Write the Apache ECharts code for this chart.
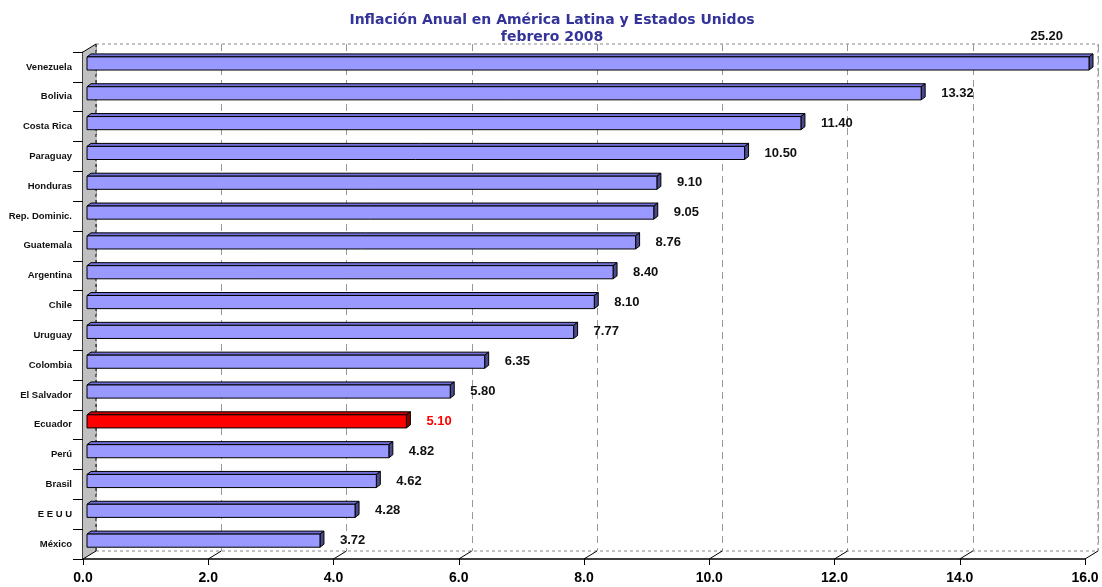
<!DOCTYPE html>
<html>
<head>
<meta charset="utf-8">
<script src="https://cdn.jsdelivr.net/npm/echarts@6/dist/echarts.min.js"></script>
<style>
html,body{margin:0;padding:0;background:#fff;}
#chart{width:1102px;height:587px;}
</style>
</head>
<body>
<div id="chart"></div>
<script>
// ---- data ----
const titleLine1 = 'Inflación Anual en América Latina y Estados Unidos';
const titleLine2 = 'febrero 2008';
const categories = ['Venezuela','Bolivia','Costa Rica','Paraguay','Honduras','Rep. Dominic.','Guatemala','Argentina','Chile','Uruguay','Colombia','El Salvador','Ecuador','Perú','Brasil','E E U U','México'];
const values = [25.20,13.32,11.40,10.50,9.10,9.05,8.76,8.40,8.10,7.77,6.35,5.80,5.10,4.82,4.62,4.28,3.72];
const highlighted = ['Ecuador'];
const X_MIN = 0, X_MAX = 16, X_STEP = 2;

// ---- style ----
const FONT = '"Liberation Sans", Arial, sans-serif';
const TITLE_FONT = '"DejaVu Sans", "Liberation Sans", sans-serif';
const DEPTH_X = 13, DEPTH_Y = 8;   // wall / floor depth
const BAR_DX = 4, BAR_DY = 3;      // bar depth

const chart = echarts.init(document.getElementById('chart'), null, {renderer: 'canvas'});

function renderWall(params, api) {
  const cs = params.coordSys;
  const children = [];
  children.push({
    type: 'polygon',
    shape: {points: [[cs.x, cs.y], [cs.x + DEPTH_X, cs.y - DEPTH_Y], [cs.x + DEPTH_X, cs.y + cs.height - DEPTH_Y], [cs.x, cs.y + cs.height]]},
    style: {fill: '#c0c0c0', stroke: null}
  });
  children.push({
    type: 'line',
    shape: {x1: cs.x, y1: cs.y, x2: cs.x + DEPTH_X, y2: cs.y - DEPTH_Y},
    style: {stroke: '#000', lineWidth: 1}
  });
  children.push({
    type: 'line',
    shape: {x1: cs.x + DEPTH_X, y1: cs.y - DEPTH_Y, x2: cs.x + DEPTH_X, y2: cs.y + cs.height - DEPTH_Y},
    style: {stroke: '#000', lineWidth: 1, lineDash: [3, 3]}
  });
  for (let v = X_MIN; v <= X_MAX; v += X_STEP) {
    const p = api.coord([v, categories.length - 1]);
    const yb = cs.y + cs.height;
    children.push({
      type: 'line',
      shape: {x1: p[0], y1: yb, x2: p[0] + DEPTH_X, y2: yb - DEPTH_Y},
      style: {stroke: '#000', lineWidth: 1}
    });
  }
  return {type: 'group', children: children};
}

function renderBar(params, api) {
  const i = api.value(0);
  const v = api.value(1);
  const shown = Math.min(v, X_MAX);
  const p0 = api.coord([0, i]);
  const p1 = api.coord([shown, i]);
  const band = api.size([0, 1])[1];
  const h = band * 0.44;
  const x0 = p0[0] + BAR_DX;
  const x1 = p1[0] + BAR_DX;
  const yt = p0[1] - band * 0.335;
  const hi = highlighted.indexOf(categories[i]) >= 0;
  const cFront = hi ? '#ff0000' : '#9999ff';
  const cTop = hi ? '#cc0000' : '#7070d8';
  const cSide = hi ? '#880000' : '#4a4a8c';
  const children = [
    {type: 'polygon', shape: {points: [[x0, yt], [x0 + BAR_DX, yt - BAR_DY], [x1 + BAR_DX, yt - BAR_DY], [x1, yt]]},
     style: {fill: cTop, stroke: '#000', lineWidth: 1}},
    {type: 'polygon', shape: {points: [[x1, yt], [x1 + BAR_DX, yt - BAR_DY], [x1 + BAR_DX, yt + h - BAR_DY], [x1, yt + h]]},
     style: {fill: cSide, stroke: '#000', lineWidth: 1}},
    {type: 'rect', shape: {x: x0, y: yt, width: x1 - x0, height: h},
     style: {fill: cFront, stroke: '#000', lineWidth: 1}}
  ];
  const clipped = v > X_MAX;
  children.push({
    type: 'text',
    x: clipped ? x1 - 26 : x1 + BAR_DX + 16,
    y: clipped ? yt - 20 : yt + h / 2,
    style: {
      text: v.toFixed(2),
      fill: hi ? '#ff0000' : '#111',
      font: 'bold 13px ' + FONT,
      align: clipped ? 'right' : 'left',
      verticalAlign: 'middle'
    }
  });
  return {type: 'group', children: children};
}

const option = {
  backgroundColor: '#fff',
  animation: false,
  title: {
    text: titleLine1 + '\n' + titleLine2,
    left: 552,
    top: 12,
    padding: 0,
    textAlign: 'center',
    textStyle: {color: '#333399', fontFamily: TITLE_FONT, fontSize: 14, fontWeight: 'bold', lineHeight: 17}
  },
  grid: [
    {left: 83, top: 52, right: 17, bottom: 28, show: false},
    {left: 83 + DEPTH_X, top: 52 - DEPTH_Y, right: 17 - DEPTH_X, bottom: 28 + DEPTH_Y,
     show: true, backgroundColor: 'transparent', borderColor: '#888', borderWidth: 1, borderType: [3, 3]}
  ],
  xAxis: [
    {type: 'value', gridIndex: 0, min: X_MIN, max: X_MAX, interval: X_STEP,
     axisLine: {show: true, lineStyle: {color: '#000', width: 1.5}},
     axisTick: {show: true, length: 6, lineStyle: {color: '#000'}},
     splitLine: {show: false},
     axisLabel: {margin: 12, color: '#000', fontFamily: FONT, fontSize: 14, fontWeight: 'bold',
       formatter: v => v.toFixed(1)}},
    {type: 'value', gridIndex: 1, min: X_MIN, max: X_MAX, interval: X_STEP,
     axisLine: {show: false}, axisTick: {show: false}, axisLabel: {show: false},
     splitLine: {show: true, lineStyle: {color: '#999', type: [7, 5], width: 1}}}
  ],
  yAxis: [
    {type: 'category', gridIndex: 0, data: categories, inverse: true,
     axisLine: {show: true, lineStyle: {color: '#000', width: 1.5}},
     axisTick: {show: true, length: 10, lineStyle: {color: '#000'}},
     splitLine: {show: false},
     axisLabel: {margin: 11, color: '#111', fontFamily: FONT, fontSize: 9.5, fontWeight: 'bold'}},
    {type: 'category', gridIndex: 1, data: categories, inverse: true, show: false}
  ],
  series: [
    {type: 'custom', xAxisIndex: 0, yAxisIndex: 0, renderItem: renderWall, data: [[0, 0]], z: 1, silent: true,
     encode: {x: 1, y: 0}},
    {type: 'custom', xAxisIndex: 0, yAxisIndex: 0, renderItem: renderBar,
     data: values.map((v, i) => [i, v]), encode: {x: 1, y: 0}, z: 3, clip: false}
  ]
};
chart.setOption(option);
</script>
</body>
</html>
